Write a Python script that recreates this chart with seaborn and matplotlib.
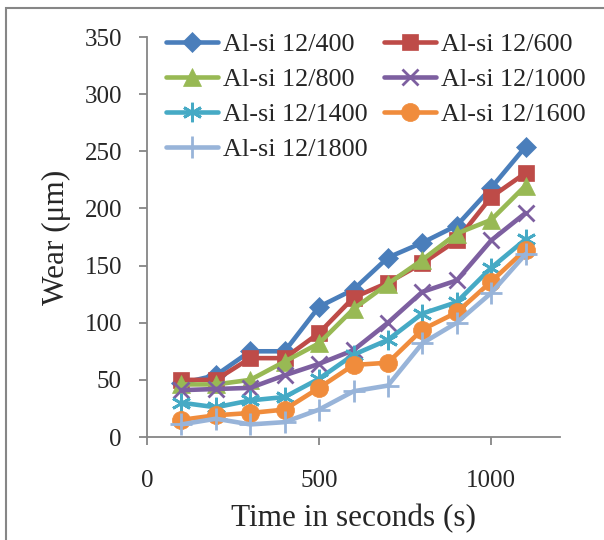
import numpy as np
import pandas as pd
import matplotlib
matplotlib.use("Agg")
import matplotlib.pyplot as plt
import seaborn as sns
from matplotlib.patches import Rectangle

# time (s)
time_s = [100, 200, 300, 400, 500, 600, 700, 800, 900, 1000, 1100]

# wear (um)
wear_400 = [47, 54, 75, 75, 114, 129, 157, 170, 185, 218, 254]
wear_600 = [50, 50, 69, 69, 91, 122, 135, 152, 172, 210, 231]
wear_800 = [46, 46, 50, 66, 82, 112, 134, 155, 178, 190, 220]
wear_1000 = [41, 42, 43, 54, 64, 76, 100, 127, 137, 172, 196]
wear_1400 = [30, 26, 32, 35, 51, 72, 85, 108, 118, 148, 173]
wear_1600 = [15, 19, 21, 24, 43, 63, 65, 94, 109, 136, 164]
wear_1800 = [11, 16, 11, 13, 24, 40, 45, 82, 100, 126, 160]

labels = ["Al-si 12/400", "Al-si 12/600", "Al-si 12/800", "Al-si 12/1000",
          "Al-si 12/1400", "Al-si 12/1600", "Al-si 12/1800"]
series = [wear_400, wear_600, wear_800, wear_1000, wear_1400, wear_1600, wear_1800]

colors = ["#4A7EBB", "#BE4B48", "#98B954", "#7D5FA0", "#46AAC5", "#F08C3C", "#98B4D9"]
markers = ["D", "s", "^", "x", (6, 2, 0), "o", "+"]
msizes = [10, 12, 13, 12, 14, 13, 16]

df = pd.DataFrame({
    "time": np.tile(time_s, len(series)),
    "wear": np.concatenate(series),
    "alloy": np.repeat(labels, len(time_s)),
})

sns.set_style("white")
plt.rcParams["font.family"] = ["Liberation Serif", "DejaVu Serif"]

fig = plt.figure(figsize=(6.04, 5.4), dpi=100)
ax = fig.add_axes([147 / 604, 1 - 437 / 540, (560 - 147) / 604, 400 / 540])

for lab, col, mk, ms in zip(labels, colors, markers, msizes):
    sub = df[df["alloy"] == lab]
    thin = mk in ("x", "+") or isinstance(mk, tuple)
    sns.lineplot(data=sub, x="time", y="wear", ax=ax, color=col, marker=mk,
                 markersize=ms, linewidth=3.3, markeredgecolor=col,
                 markeredgewidth=2 if thin else 0.5,
                 solid_capstyle="round", label=lab, legend=False)

ax.set_xlim(0, 1200)
ax.set_ylim(0, 350)
ax.set_xticks([0, 500, 1000])
ax.set_yticks(range(0, 351, 50))
for s in ["top", "right"]:
    ax.spines[s].set_visible(False)
for s in ["left", "bottom"]:
    ax.spines[s].set_color("#868686")
    ax.spines[s].set_linewidth(1.3)
ax.tick_params(axis="y", direction="out", length=6, width=1.3, color="#868686",
               labelsize=18, pad=12, left=True)
ax.tick_params(axis="x", direction="out", length=6, width=1.3, color="#868686",
               labelsize=18, pad=18, bottom=True)
ax.set_xlabel("Time in seconds (s)", fontsize=22.5, labelpad=8)
ax.set_ylabel("Wear (μm)", fontsize=22.5, labelpad=10)

# legend reads row by row in the reference
handles, labs = ax.get_legend_handles_labels()
order = [0, 2, 4, 6, 1, 3, 5]
fig.legend([handles[i] for i in order], [labs[i] for i in order], ncol=2,
           loc="upper left", bbox_to_anchor=(166 / 604, 1 - 33 / 540),
           frameon=False, fontsize=18.8, handlelength=2.0, handletextpad=0.2,
           columnspacing=0.6, labelspacing=0.45, borderpad=0, borderaxespad=0)

# outer chart frame (cut off on right/bottom)
fig.patches.append(Rectangle((6 / 604, -0.1), 1.2, 1 - 8 / 540 + 0.1,
                             transform=fig.transFigure, fill=False,
                             edgecolor="#868686", linewidth=1.5))

fig.savefig("out.png", dpi=100)
